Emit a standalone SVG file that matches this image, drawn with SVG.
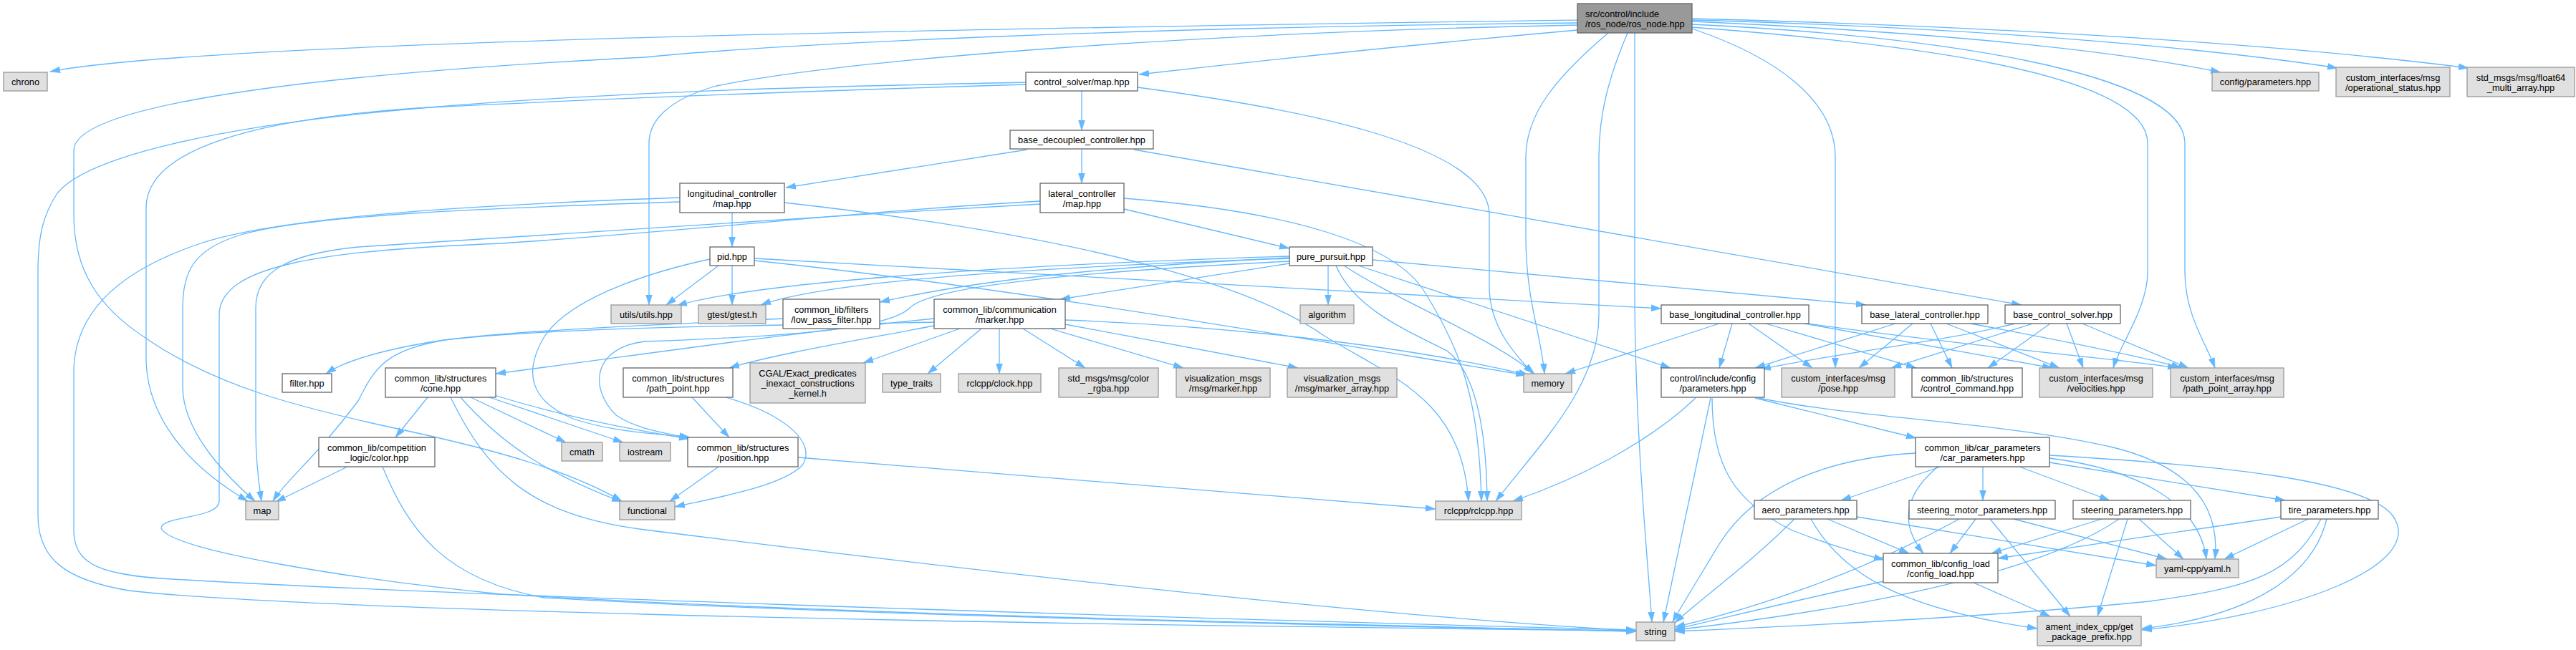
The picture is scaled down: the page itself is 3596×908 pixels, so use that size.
<svg xmlns="http://www.w3.org/2000/svg" width="3596" height="908" viewBox="0 0 3596 908">
<style>
.n rect{fill:#ffffff;stroke:#666666;stroke-width:1.3}
.x rect{fill:#e0e0e0;stroke:#999999;stroke-width:1.3}
.r rect{fill:#999999;stroke:#666666;stroke-width:1.3}
text{font-family:"Liberation Sans",Arial,Helvetica,sans-serif;font-size:12.8px;fill:#000000;text-anchor:middle}
.r text{text-anchor:start}
#edges path{fill:none;stroke:#63b8ff;stroke-width:1.3;marker-end:url(#ah)}
</style>
<defs>
<marker id="ah" markerWidth="15" markerHeight="10" refX="14" refY="5" orient="auto" markerUnits="userSpaceOnUse"><path d="M0,0.5 L14,5 L0,9.5 Z" fill="#63b8ff" stroke="#63b8ff" stroke-width="0.5"/></marker>
</defs>
<rect width="3596" height="908" fill="#ffffff"/>
<g id="edges">
<path d="M2202,28 C1500,38 300,55 70,100"/>
<path d="M2202,32 C1600,38 1100,60 900,80 C500,100 103,140 103,210 L103,300 C103,380 140,430 200,470 C300,540 420,570 560,600 C700,630 800,660 868,700"/>
<path d="M2202,35 C1700,45 1200,80 1000,120 C930,140 906,170 906,200 L906,426"/>
<path d="M2202,42 C2000,60 1800,80 1590,104"/>
<path d="M2245,46 C2170,110 2130,160 2130,220 L2130,330 C2130,420 2152,470 2156,522"/>
<path d="M2272,46 C2245,110 2232,160 2232,220 L2232,440 C2232,540 2150,620 2088,700"/>
<path d="M2282,46 L2282,400 C2282,600 2300,780 2306,869"/>
<path d="M2362,40 C2480,80 2562,140 2562,220 L2562,514"/>
<path d="M2362,30 C2700,45 2950,70 3100,101"/>
<path d="M2362,28 C2800,40 3100,70 3263,95"/>
<path d="M2362,26 C2900,40 3250,70 3446,95"/>
<path d="M2362,38 C2650,60 2998,100 2998,200 L2998,380 C2998,430 2960,480 2950,514"/>
<path d="M2362,34 C2700,50 3050,100 3050,200 L3050,380 C3050,440 3080,480 3092,514"/>
<path d="M1510,127 L1510,182"/>
<path d="M1432,115 C1200,120 900,125 600,150 C300,175 120,220 80,270 C60,300 53,330 53,380 L53,720 C53,780 90,810 180,825 C400,850 1200,870 2284,881"/>
<path d="M1432,118 C1200,125 900,135 600,150 C350,165 204,210 204,290 L204,500 C204,580 260,650 346,700"/>
<path d="M1588,122 C1800,150 2079,200 2079,300 L2079,400 C2079,460 2120,500 2140,522"/>
<path d="M1434,209 L1097,262"/>
<path d="M1510,209 L1510,256"/>
<path d="M1583,209 L2822,426"/>
<path d="M1022,297 L1022,345"/>
<path d="M949,276 C700,285 400,300 280,340 C160,380 103,440 103,520 L103,740 C103,790 140,805 260,810 C600,830 1500,860 2284,880"/>
<path d="M949,282 C700,290 420,300 330,330 C270,350 255,380 255,430 L255,540 C255,600 310,660 356,700"/>
<path d="M1095,283 C1600,340 1780,420 1850,470 C1950,530 2040,560 2050,700"/>
<path d="M1569,292 L1800,347"/>
<path d="M1452,281 C1200,295 1000,320 700,340 C450,350 306,370 306,440 L306,700 C306,725 225,720 225,738 C240,770 500,810 700,830 C1200,860 1800,870 2284,882"/>
<path d="M1452,285 C1100,305 700,330 500,345 C400,355 357,380 357,430 L357,600 C357,650 362,680 365,700"/>
<path d="M1569,277 C1800,295 1950,340 1990,410 C2040,490 2065,560 2068,700"/>
<path d="M1003,371 L930,426"/>
<path d="M1022,371 L1022,426"/>
<path d="M991,362 C930,375 800,410 760,470 C730,520 740,560 800,585 C860,605 920,605 965,612"/>
<path d="M1053,361 L2319,431"/>
<path d="M1053,364 C1400,400 1800,470 2130,524"/>
<path d="M1800,358 C1400,370 1050,395 945,427"/>
<path d="M1800,361 C1400,375 1150,395 1062,426"/>
<path d="M1800,360 C1500,375 1350,395 1228,422"/>
<path d="M1800,368 L1480,418"/>
<path d="M1854,371 L1854,426"/>
<path d="M1916,363 L2605,426"/>
<path d="M1876,371 C1950,420 2080,470 2142,522"/>
<path d="M1865,371 C1890,430 1960,460 2020,490 C2060,520 2075,600 2076,700"/>
<path d="M1896,371 L2332,514"/>
<path d="M1800,365 C1500,380 1300,400 1270,430 C1240,460 1100,470 900,477 C830,485 820,540 860,580 C890,600 930,605 962,612"/>
<path d="M1304,445 C1100,465 900,495 692,522"/>
<path d="M1304,455 C1200,475 1080,495 1018,514"/>
<path d="M1304,450 C1100,455 800,455 620,475 C540,490 525,510 500,560 C440,640 400,670 381,700"/>
<path d="M1340,459 L1205,507"/>
<path d="M1370,459 L1295,522"/>
<path d="M1395,459 L1395,522"/>
<path d="M1428,459 L1515,514"/>
<path d="M1466,459 L1652,514"/>
<path d="M1487,453 L1812,514"/>
<path d="M1487,447 C1700,455 1950,480 2134,524"/>
<path d="M1093,445 C900,455 700,462 600,478 C530,490 480,505 455,522"/>
<path d="M597,555 L552,611"/>
<path d="M657,555 L790,618"/>
<path d="M683,555 L870,618"/>
<path d="M643,555 C700,620 760,660 868,701"/>
<path d="M690,552 C780,580 880,600 962,613"/>
<path d="M629,555 C680,660 740,720 900,740 C1300,790 1900,860 2284,881"/>
<path d="M485,652 L385,701"/>
<path d="M534,652 C570,740 620,810 760,835 C1200,860 1800,872 2284,882"/>
<path d="M966,555 L1018,611"/>
<path d="M1013,555 C1100,580 1140,620 1120,650 C1090,680 1000,695 942,708"/>
<path d="M1003,652 L935,700"/>
<path d="M1114,639 L2004,711"/>
<path d="M2418,452 L2400,514"/>
<path d="M2441,452 L2530,514"/>
<path d="M2465,452 L2675,514"/>
<path d="M2519,452 L2865,514"/>
<path d="M2523,452 C2800,490 2950,500 3040,514"/>
<path d="M2400,452 L2185,522"/>
<path d="M2646,452 L2450,514"/>
<path d="M2670,452 L2595,514"/>
<path d="M2695,452 L2725,514"/>
<path d="M2717,452 L2875,514"/>
<path d="M2751,452 C2900,480 3000,500 3045,514"/>
<path d="M2813,452 C2700,480 2550,495 2458,516"/>
<path d="M2838,452 L2640,514"/>
<path d="M2862,452 L2775,514"/>
<path d="M2885,452 L2908,514"/>
<path d="M2907,452 L3055,514"/>
<path d="M2367,556 C2300,620 2200,670 2112,700"/>
<path d="M2388,556 L2322,869"/>
<path d="M2390,556 C2390,650 2420,700 2500,740 C2550,760 2590,772 2630,782"/>
<path d="M2450,556 L2675,612"/>
<path d="M2455,556 C2600,585 2800,590 2950,625 C3050,650 3100,700 3092,781"/>
<path d="M2674,633 C2550,640 2450,680 2400,760 C2370,810 2345,850 2335,869"/>
<path d="M2709,652 L2570,699"/>
<path d="M2705,652 C2660,690 2650,730 2685,773"/>
<path d="M2768,652 L2768,699"/>
<path d="M2819,652 L2945,699"/>
<path d="M2861,646 L3190,699"/>
<path d="M2861,640 C2980,655 3070,700 3080,781"/>
<path d="M2861,636 C3100,650 3300,670 3340,720 C3390,790 3200,860 2990,880"/>
<path d="M2505,725 C2440,790 2370,840 2338,870"/>
<path d="M2528,725 C2570,800 2650,850 2844,878"/>
<path d="M2551,725 L2665,773"/>
<path d="M2592,722 L3010,790"/>
<path d="M2735,725 C2600,800 2450,850 2338,876"/>
<path d="M2758,725 L2722,773"/>
<path d="M2778,725 L2890,861"/>
<path d="M2811,725 L3025,781"/>
<path d="M2934,725 L2780,773"/>
<path d="M2958,725 C2850,800 2600,850 2338,880"/>
<path d="M2970,725 L2928,861"/>
<path d="M2986,725 L3048,781"/>
<path d="M3184,722 L2789,780"/>
<path d="M3222,725 L3105,781"/>
<path d="M3240,725 C3200,800 3150,820 3000,840 C2800,860 2500,875 2338,882"/>
<path d="M3248,725 C3230,800 3150,860 2990,878"/>
<path d="M2630,812 C2500,840 2400,865 2338,879"/>
<path d="M2755,814 L2862,861"/>
</g>
<g id="node-root" class="r"><rect x="2202" y="5" width="160" height="41"/><text x="2213" y="23.5">src/control/include</text><text x="2213" y="37.5">/ros_node/ros_node.hpp</text></g>
<g id="node-chrono" class="x"><rect x="5" y="101" width="61" height="26"/><text x="35.5" y="119">chrono</text></g>
<g id="node-control-solver-map" class="n"><rect x="1432" y="101" width="156" height="26"/><text x="1510" y="119">control_solver/map.hpp</text></g>
<g id="node-config-parameters" class="x"><rect x="3088" y="101" width="149" height="26"/><text x="3162.5" y="119">config/parameters.hpp</text></g>
<g id="node-operational-status" class="x"><rect x="3261" y="94" width="159" height="41"/><text x="3340.5" y="112.5">custom_interfaces/msg</text><text x="3340.5" y="126.5">/operational_status.hpp</text></g>
<g id="node-float64" class="x"><rect x="3444" y="94" width="150" height="41"/><text x="3519" y="112.5">std_msgs/msg/float64</text><text x="3519" y="126.5">_multi_array.hpp</text></g>
<g id="node-base-decoupled" class="n"><rect x="1410" y="182" width="200" height="26"/><text x="1510" y="200">base_decoupled_controller.hpp</text></g>
<g id="node-longitudinal" class="n"><rect x="949" y="256" width="146" height="41"/><text x="1022" y="274.5">longitudinal_controller</text><text x="1022" y="288.5">/map.hpp</text></g>
<g id="node-lateral" class="n"><rect x="1452" y="256" width="117" height="41"/><text x="1510.5" y="274.5">lateral_controller</text><text x="1510.5" y="288.5">/map.hpp</text></g>
<g id="node-pid" class="n"><rect x="991" y="345" width="62" height="26"/><text x="1022" y="363">pid.hpp</text></g>
<g id="node-pure-pursuit" class="n"><rect x="1800" y="345" width="116" height="26"/><text x="1858" y="363">pure_pursuit.hpp</text></g>
<g id="node-utils" class="x"><rect x="853" y="426" width="98" height="26"/><text x="902" y="444">utils/utils.hpp</text></g>
<g id="node-gtest" class="x"><rect x="975" y="426" width="94" height="26"/><text x="1022" y="444">gtest/gtest.h</text></g>
<g id="node-low-pass" class="n"><rect x="1093" y="418" width="135" height="41"/><text x="1160.5" y="436.5">common_lib/filters</text><text x="1160.5" y="450.5">/low_pass_filter.hpp</text></g>
<g id="node-marker" class="n"><rect x="1304" y="418" width="183" height="41"/><text x="1395.5" y="436.5">common_lib/communication</text><text x="1395.5" y="450.5">/marker.hpp</text></g>
<g id="node-algorithm" class="x"><rect x="1815" y="426" width="75" height="26"/><text x="1852.5" y="444">algorithm</text></g>
<g id="node-base-longitudinal" class="n"><rect x="2319" y="426" width="206" height="26"/><text x="2422" y="444">base_longitudinal_controller.hpp</text></g>
<g id="node-base-lateral" class="n"><rect x="2599" y="426" width="176" height="26"/><text x="2687" y="444">base_lateral_controller.hpp</text></g>
<g id="node-base-control-solver" class="n"><rect x="2799" y="426" width="161" height="26"/><text x="2879.5" y="444">base_control_solver.hpp</text></g>
<g id="node-filter" class="n"><rect x="394" y="522" width="69" height="26"/><text x="428.5" y="540">filter.hpp</text></g>
<g id="node-cone" class="n"><rect x="538" y="514" width="154" height="41"/><text x="615" y="532.5">common_lib/structures</text><text x="615" y="546.5">/cone.hpp</text></g>
<g id="node-path-point" class="n"><rect x="870" y="514" width="153" height="41"/><text x="946.5" y="532.5">common_lib/structures</text><text x="946.5" y="546.5">/path_point.hpp</text></g>
<g id="node-cgal" class="x"><rect x="1047" y="507" width="161" height="56"/><text x="1127.5" y="526">CGAL/Exact_predicates</text><text x="1127.5" y="540">_inexact_constructions</text><text x="1127.5" y="554">_kernel.h</text></g>
<g id="node-type-traits" class="x"><rect x="1232" y="522" width="81" height="26"/><text x="1272.5" y="540">type_traits</text></g>
<g id="node-clock" class="x"><rect x="1338" y="522" width="115" height="26"/><text x="1395.5" y="540">rclcpp/clock.hpp</text></g>
<g id="node-color-rgba" class="x"><rect x="1478" y="514" width="139" height="41"/><text x="1547.5" y="532.5">std_msgs/msg/color</text><text x="1547.5" y="546.5">_rgba.hpp</text></g>
<g id="node-vis-marker" class="x"><rect x="1642" y="514" width="131" height="41"/><text x="1707.5" y="532.5">visualization_msgs</text><text x="1707.5" y="546.5">/msg/marker.hpp</text></g>
<g id="node-vis-marker-array" class="x"><rect x="1797" y="514" width="153" height="41"/><text x="1873.5" y="532.5">visualization_msgs</text><text x="1873.5" y="546.5">/msg/marker_array.hpp</text></g>
<g id="node-memory" class="x"><rect x="2127" y="522" width="67" height="26"/><text x="2160.5" y="540">memory</text></g>
<g id="node-control-config-parameters" class="n"><rect x="2319" y="514" width="144" height="41"/><text x="2391" y="532.5">control/include/config</text><text x="2391" y="546.5">/parameters.hpp</text></g>
<g id="node-pose" class="x"><rect x="2487" y="514" width="158" height="41"/><text x="2566" y="532.5">custom_interfaces/msg</text><text x="2566" y="546.5">/pose.hpp</text></g>
<g id="node-control-command" class="n"><rect x="2669" y="514" width="154" height="41"/><text x="2746" y="532.5">common_lib/structures</text><text x="2746" y="546.5">/control_command.hpp</text></g>
<g id="node-velocities" class="x"><rect x="2847" y="514" width="158" height="41"/><text x="2926" y="532.5">custom_interfaces/msg</text><text x="2926" y="546.5">/velocities.hpp</text></g>
<g id="node-path-point-array" class="x"><rect x="3030" y="514" width="158" height="41"/><text x="3109" y="532.5">custom_interfaces/msg</text><text x="3109" y="546.5">/path_point_array.hpp</text></g>
<g id="node-color" class="n"><rect x="445" y="611" width="162" height="41"/><text x="526" y="629.5">common_lib/competition</text><text x="526" y="643.5">_logic/color.hpp</text></g>
<g id="node-cmath" class="x"><rect x="784" y="618" width="57" height="26"/><text x="812.5" y="636">cmath</text></g>
<g id="node-iostream" class="x"><rect x="865" y="618" width="71" height="26"/><text x="900.5" y="636">iostream</text></g>
<g id="node-position" class="n"><rect x="960" y="611" width="154" height="41"/><text x="1037" y="629.5">common_lib/structures</text><text x="1037" y="643.5">/position.hpp</text></g>
<g id="node-car-parameters" class="n"><rect x="2674" y="611" width="187" height="41"/><text x="2767.5" y="629.5">common_lib/car_parameters</text><text x="2767.5" y="643.5">/car_parameters.hpp</text></g>
<g id="node-map" class="x"><rect x="343" y="700" width="46" height="26"/><text x="366" y="718">map</text></g>
<g id="node-functional" class="x"><rect x="865" y="700" width="77" height="26"/><text x="903.5" y="718">functional</text></g>
<g id="node-rclcpp" class="x"><rect x="2004" y="700" width="120" height="26"/><text x="2064" y="718">rclcpp/rclcpp.hpp</text></g>
<g id="node-aero" class="n"><rect x="2449" y="699" width="143" height="26"/><text x="2520.5" y="717">aero_parameters.hpp</text></g>
<g id="node-steering-motor" class="n"><rect x="2665" y="699" width="204" height="26"/><text x="2767" y="717">steering_motor_parameters.hpp</text></g>
<g id="node-steering" class="n"><rect x="2894" y="699" width="164" height="26"/><text x="2976" y="717">steering_parameters.hpp</text></g>
<g id="node-tire" class="n"><rect x="3184" y="699" width="136" height="26"/><text x="3252" y="717">tire_parameters.hpp</text></g>
<g id="node-config-load" class="n"><rect x="2629" y="773" width="160" height="41"/><text x="2709" y="791.5">common_lib/config_load</text><text x="2709" y="805.5">/config_load.hpp</text></g>
<g id="node-yaml" class="x"><rect x="3010" y="781" width="115" height="26"/><text x="3067.5" y="799">yaml-cpp/yaml.h</text></g>
<g id="node-string" class="x"><rect x="2284" y="869" width="54" height="26"/><text x="2311" y="887">string</text></g>
<g id="node-ament" class="x"><rect x="2844" y="861" width="145" height="41"/><text x="2916.5" y="879.5">ament_index_cpp/get</text><text x="2916.5" y="893.5">_package_prefix.hpp</text></g>
</svg>
